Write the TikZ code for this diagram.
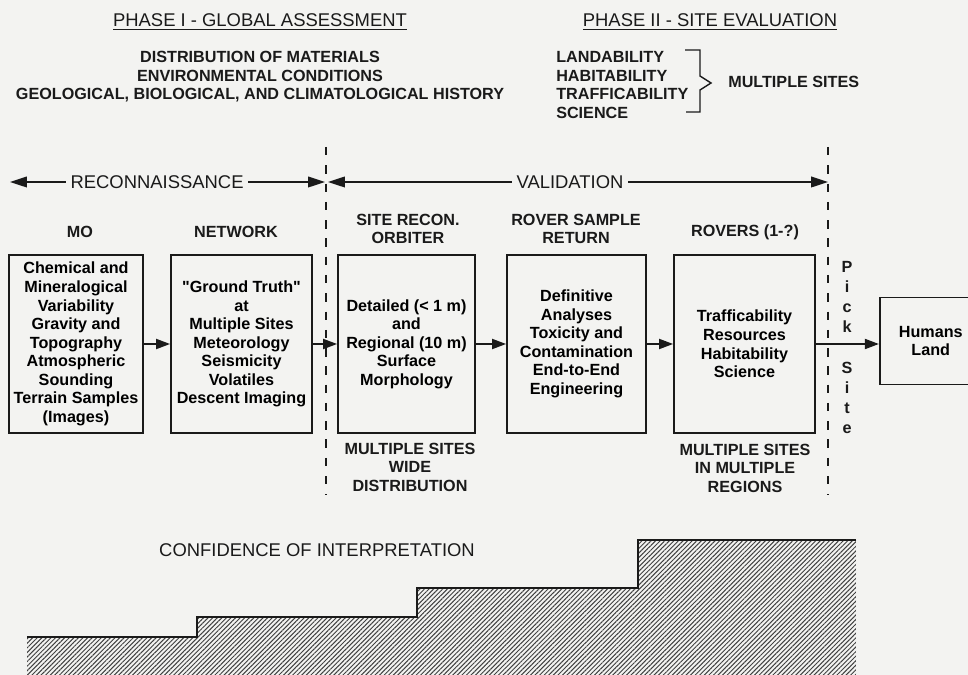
\documentclass[tikz,border=0pt]{standalone}
\usepackage{fontspec}
\setmainfont{Liberation Sans}
\usetikzlibrary{positioning, arrows.meta, patterns.meta}
\definecolor{paper}{HTML}{F3F3F1}
\definecolor{ink}{HTML}{1A1A1A}
\newcommand{\bodyfont}{\fontsize{11.5}{13.2}\selectfont\bfseries}
\newcommand{\headfont}{\fontsize{13.1}{15}\selectfont}
\newcommand{\pickfont}{\fontsize{11.5}{14.2}\selectfont\bfseries}

\begin{document}
\begin{tikzpicture}[x=0.025cm, y=-0.025cm,
  stage/.style={draw=ink, line width=1.1pt, align=center, font=\bodyfont, minimum height=4.45cm, inner sep=0pt},
  tag/.style={align=center, font=\bodyfont, text=ink, inner sep=0pt},
  hdr/.style={font=\headfont, text=ink, inner sep=0pt},
  flow/.style={draw=ink, line width=1.6pt, -{Triangle[length=10pt, width=7pt]}},
  phasearrow/.style={draw=ink, line width=1.3pt, {Triangle[length=12pt, width=7.5pt]}-{Triangle[length=12pt, width=7.5pt]}},
  divider/.style={draw=ink, line width=0.8pt, dash pattern=on 6pt off 7pt}]
\useasboundingbox (0,0) rectangle (968,675);
\fill[paper] (0,0) rectangle (968,675);
% phase headings
\node[hdr] (ph1) at (260,22) {\underline{PHASE I - GLOBAL ASSESSMENT}};
\node[tag] (goals) at (260,77) {DISTRIBUTION OF MATERIALS\\ENVIRONMENTAL CONDITIONS\\GEOLOGICAL, BIOLOGICAL, AND CLIMATOLOGICAL HISTORY};
\node[hdr] (ph2) at (710,22) {\underline{PHASE II - SITE EVALUATION}};
\node[tag, align=left, anchor=west] (crit) at (556,85) {LANDABILITY\\HABITABILITY\\TRAFFICABILITY\\SCIENCE};
\node[tag, anchor=west] (msites) at (728,82) {MULTIPLE SITES};
\draw[ink, line width=1pt] (685,50) -- (700,50) -- (700,76) -- (711,83) -- (700,90) -- (700,112) -- (686,112);
% dividers and phase arrows
\coordinate (cutA) at (326,147); \coordinate (cutAend) at (326,495);
\coordinate (cutB) at (828,147); \coordinate (cutBend) at (828,495);
\draw[divider] (cutA) -- (cutAend);
\draw[divider] (cutB) -- (cutBend);
\coordinate (recL) at (10,182); \coordinate (recR) at (325,182);
\coordinate (valL) at (328,182); \coordinate (valR) at (828,182);
\draw[phasearrow] (recL) -- node[pos=0.467, fill=paper, hdr, inner xsep=3pt, inner ysep=2pt] {RECONNAISSANCE} (recR);
\draw[phasearrow] (valL) -- node[pos=0.484, fill=paper, hdr, inner xsep=3pt, inner ysep=2pt] {VALIDATION} (valR);
% mission stages
\node[stage, minimum width=3.35cm] (mo) at (76,344) {Chemical and\\Mineralogical\\Variability\\Gravity and\\Topography\\Atmospheric\\Sounding\\Terrain Samples\\(Images)};
\node[stage, minimum width=3.525cm] (net) at (241.5,344) {\textquotedbl Ground Truth\textquotedbl\\at\\Multiple Sites\\Meteorology\\Seismicity\\Volatiles\\Descent Imaging};
\node[stage, minimum width=3.425cm] (orb) at (406.5,344) {Detailed (< 1 m)\\and\\Regional (10 m)\\Surface\\Morphology};
\node[stage, minimum width=3.475cm] (rsr) at (576.5,344) {Definitive\\Analyses\\Toxicity and\\Contamination\\End-to-End\\Engineering};
\node[stage, minimum width=3.525cm] (rov) at (744.5,344) {Trafficability\\Resources\\Habitability\\Science};
\node[stage, minimum width=2.55cm, minimum height=2.175cm, anchor=west] (hum) at (879,341) {Humans\\Land};
\node[tag] (moT) at (80,232) {MO};
\node[tag] (netT) at (236,232) {NETWORK};
\node[tag] (orbT) at (408,229) {SITE RECON.\\ORBITER};
\node[tag] (rsrT) at (576,229) {ROVER SAMPLE\\RETURN};
\node[tag] (rovT) at (745,232) {ROVERS (1-?)};
\node[tag] (orbB) at (410,467) {MULTIPLE SITES\\WIDE\\DISTRIBUTION};
\node[tag] (rovB) at (745,468) {MULTIPLE SITES\\IN MULTIPLE\\REGIONS};
\node[tag, font=\pickfont] (pick) at (847,297) {P\\i\\c\\k};
\node[tag, font=\pickfont] (site) at (847,398) {S\\i\\t\\e};
\draw[flow] (mo) -- (net);
\draw[flow] (net) -- (orb);
\draw[flow] (orb) -- (rsr);
\draw[flow] (rsr) -- (rov);
\draw[flow] (rov) -- (rov -| hum.west);
% confidence staircase
\node[hdr] (conf) at (317,550) {CONFIDENCE OF INTERPRETATION};
\fill[pattern={Lines[angle=45, distance=2.3pt, line width=0.7pt]}, pattern color=black!75] (27,637) -| (197,617) -| (417,588) -| (638,540) -| (856,675) -| (27,675) -- cycle;
\draw[ink, line width=1.1pt] (27,637) -| (197,617) -| (417,588) -| (638,540) -- (856,540);
\end{tikzpicture}
\end{document}
